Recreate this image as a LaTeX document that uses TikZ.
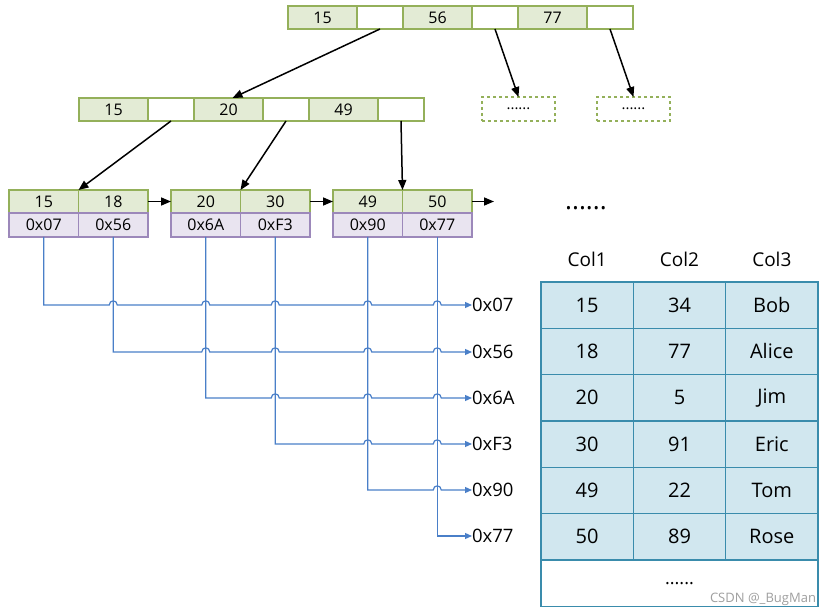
\documentclass[tikz,border=0pt]{standalone}
\usepackage{fontspec}
\setmainfont{Open Sans}
\usetikzlibrary{arrows.meta, positioning}

\begin{document}
\begin{tikzpicture}[x=1pt, y=-1pt, node distance=0pt,
    every node/.style={inner sep=0pt, outer sep=0pt},
    key/.style={draw=keyborder, fill=keybg, line width=1.3pt, minimum width=69pt, minimum height=23pt, font=\fontsize{16}{18}\selectfont},
    ptr/.style={draw=keyborder, fill=white, line width=1.3pt, minimum width=46pt, minimum height=23pt},
    leaf/.style={key, minimum width=69.5pt},
    addr/.style={draw=ptrborder, fill=ptrbg, line width=1.3pt, minimum width=69.5pt, minimum height=24pt, font=\fontsize{16}{18}\selectfont},
    more/.style={draw=keyborder, dashed, line width=1.3pt, minimum width=73pt, minimum height=24pt, font=\fontsize{15}{17}\selectfont},
    cell/.style={draw=tblborder, fill=tblbg, line width=1.6pt, minimum width=92.33pt, minimum height=46.33pt, font=\fontsize{20}{24}\selectfont},
    head/.style={font=\fontsize{19}{22}\selectfont},
    lbl/.style={anchor=west, font=\fontsize{18.5}{22}\selectfont},
    tree/.style={-{Triangle[length=10pt,width=8pt]}, line width=1.5pt},
    link/.style={draw=linkblue, line width=1.2pt, -{Triangle[length=7pt,width=6pt]}}]
  \definecolor{keybg}{HTML}{E3EBD5} \definecolor{keyborder}{HTML}{94B05A}
  \definecolor{ptrbg}{HTML}{E9E4F0} \definecolor{ptrborder}{HTML}{9C88BA}
  \definecolor{linkblue}{HTML}{4A7FC8}
  \definecolor{tblbg}{HTML}{D1E7EF} \definecolor{tblborder}{HTML}{3A8CAC}
  \useasboundingbox (0,0) rectangle (831,615);

  % root
  \node[key, anchor=north west] (r15) at (288,6) {15};
  \node[ptr, right=of r15] (rp1) {};
  \node[key, right=of rp1] (r56) {56};
  \node[ptr, right=of r56] (rp2) {};
  \node[key, right=of rp2] (r77) {77};
  \node[ptr, right=of r77] (rp3) {};

  % middle level
  \node[key, anchor=north west] (m15) at (79,98) {15};
  \node[ptr, right=of m15] (mp1) {};
  \node[key, right=of mp1] (m20) {20};
  \node[ptr, right=of m20] (mp2) {};
  \node[key, right=of mp2] (m49) {49};
  \node[ptr, right=of m49] (mp3) {};
  \node[more, anchor=north west] (d1) at (482,97) {......};
  \node[more, anchor=north west] (d2) at (597,97) {......};

  % leaves
  \node[leaf, anchor=north west] (l15) at (9,190) {15};
  \node[leaf, right=of l15] (l18) {18};
  \node[leaf, anchor=north west] (l20) at (171,190) {20};
  \node[leaf, right=of l20] (l30) {30};
  \node[leaf, anchor=north west] (l49) at (333,190) {49};
  \node[leaf, right=of l49] (l50) {50};
  \node[addr, below=of l15] (p1) {0x07};
  \node[addr, below=of l18] (p2) {0x56};
  \node[addr, below=of l20] (p3) {0x6A};
  \node[addr, below=of l30] (p4) {0xF3};
  \node[addr, below=of l49] (p5) {0x90};
  \node[addr, below=of l50] (p6) {0x77};
  \node[font=\fontsize{26}{28}\selectfont] (dots) at (586,208) {......};

  \draw[tree] (rp1.south) -- ([xshift=4pt]m20.north);
  \draw[tree] (rp2.south) -- (d1.north);
  \draw[tree] (rp3.south) -- (d2.north);
  \draw[tree] (mp1.south) -- (l15.north east);
  \draw[tree] (mp2.south) -- (l20.north east);
  \draw[tree] (mp3.south) -- (l49.north east);
  \draw[tree] (l18.east) -- (l20.west);
  \draw[tree] (l30.east) -- (l49.west);
  \coordinate[right=22pt of l50] (next);
  \draw[tree] (l50.east) -- (next);

  % row addresses
  \node[lbl] (a1) at (472,305) {0x07};
  \node[lbl] (a2) at (472,352) {0x56};
  \node[lbl] (a3) at (472,398) {0x6A};
  \node[lbl] (a4) at (472,444) {0xF3};
  \node[lbl] (a5) at (472,490) {0x90};
  \node[lbl] (a6) at (472,536) {0x77};

  \foreach \i/\js in {1/{2,3,4,5,6},2/{3,4,5,6},3/{4,5,6},4/{5,6},5/{6}}
    \draw[link] (p\i.south) -- (p\i.south |- a\i.west)
      foreach \j in \js {
        -- ([xshift=-4pt]p\j.south |- a\i.west)
        .. controls ([xshift=-4pt,yshift=5.5pt]p\j.south |- a\i.west)
        and ([xshift=4pt,yshift=5.5pt]p\j.south |- a\i.west)
        .. ([xshift=4pt]p\j.south |- a\i.west)
      } -- (a\i.west);
  \draw[link] (p6.south) |- (a6.west);

  % table
  \foreach \a/\b/\c [count=\r] in {15/34/Bob, 18/77/Alice, 20/5/Jim, 30/91/Eric, 49/22/Tom, 50/89/Rose} {
    \node[cell, anchor=north west] (c\r-1) at (541,{282+46.33*(\r-1)}) {\a};
    \node[cell, right=of c\r-1] (c\r-2) {\b};
    \node[cell, right=of c\r-2] (c\r-3) {\c};
  }
  \node[cell, fill=white, minimum width=277pt, anchor=north west, font=\fontsize{18}{20}\selectfont] (tail) at (c6-1.south west) {......};
  \foreach \r in {1,...,6}
    \foreach \k in {1,2,3}
      \draw[tblborder, line width=1.6pt] (c\r-\k.north west) rectangle (c\r-\k.south east);
  \foreach \k in {1,2,3}
    \node[head, above=15pt of c1-\k] (h\k) {Col\k};

  \node[font=\fontsize{13}{15}\selectfont, text=gray!75, anchor=south east] (mark) at (816,606) {CSDN @\_BugMan};
\end{tikzpicture}
\end{document}
